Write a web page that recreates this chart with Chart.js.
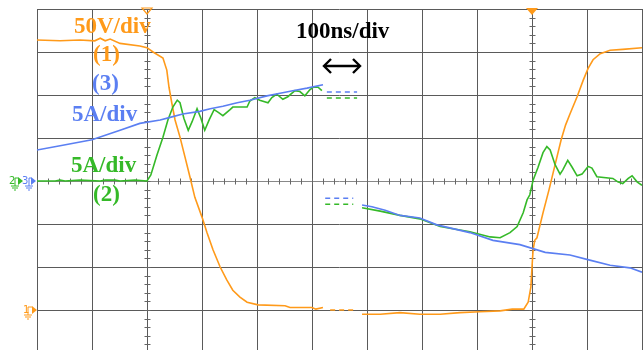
<!DOCTYPE html>
<html>
<head>
<meta charset="utf-8">
<script src="https://cdn.jsdelivr.net/npm/chart.js@4"></script>
<style>
  html, body { margin: 0; padding: 0; background: #fff; overflow: hidden; }
  #wrap { width: 643px; height: 350px; }
</style>
</head>
<body>
<div id="wrap"><canvas id="scope"></canvas></div>
<script>
// time axis in ns (100 ns/div), currents in A (5 A/div), voltage in V (50 V/div)

// ch1 voltage, first capture
const ch1TimeA = [0, 42, 78, 105, 115, 124, 133, 151, 187, 200, 211, 229, 236, 240, 245, 251, 260, 269, 278, 287, 300, 309, 320, 333, 345, 356, 369, 382, 402, 451, 460, 500, 507, 520];
const ch1VoltA = [314, 313, 314, 313, 316, 313, 315, 310, 307, 305, 300, 293, 279, 259, 241, 221, 201, 178, 155, 131, 108, 90, 70, 50, 35, 23, 15, 9, 6, 5, 3, 3, 1, 3];
// ch1 voltage, second capture
const ch1TimeB = [591, 624, 660, 696, 733, 769, 805, 842, 864, 885, 893, 898, 900, 902, 905, 909, 920, 931, 942, 953, 961, 969, 982, 993, 1002, 1011, 1024, 1042, 1065, 1100];
const ch1VoltB = [-5, -5, -3, -5, -5, -3, -2, -1, 1, 1, 9, 27, 50, 70, 81, 84, 113, 140, 169, 198, 215, 228, 248, 267, 281, 291, 298, 302, 303, 305];

// ch3 current (blue)
const ch3TimeA = [0, 42, 100, 151, 187, 224, 242, 265, 296, 315, 338, 364, 387, 418, 442, 465, 491, 520];
const ch3AmpA = [3.6, 4.1, 4.8, 5.9, 6.7, 7.1, 7.4, 7.8, 8.1, 8.4, 8.7, 9.1, 9.4, 9.9, 10.2, 10.5, 10.8, 11.2];
const ch3TimeB = [591, 609, 633, 660, 696, 727, 787, 829, 878, 924, 969, 1005, 1042, 1078, 1100];
const ch3AmpB = [-2.8, -3.0, -3.4, -4.0, -4.3, -5.1, -6.0, -6.9, -7.4, -8.3, -8.6, -9.2, -9.8, -10.1, -10.6];

// ch2 current (green)
const ch2TimeA = [0, 33, 42, 51, 78, 115, 124, 142, 151, 178, 200, 207, 218, 229, 238, 247, 255, 260, 267, 275, 282, 291, 298, 305, 313, 322, 329, 338, 351, 356, 382, 387, 396, 405, 420, 427, 436, 447, 456, 469, 478, 487, 496, 502, 511, 518];
const ch2AmpA = [0, 0, 0.1, 0, 0.1, 0, 0.1, 0.1, 0, 0.1, 0, 0.7, 3.0, 5.1, 7.1, 8.6, 9.4, 9.1, 7.3, 5.9, 6.9, 8.4, 7.3, 5.9, 7.1, 8.3, 8.0, 7.6, 8.3, 8.6, 8.6, 9.3, 9.7, 9.4, 9.1, 9.7, 10.1, 9.5, 9.8, 10.5, 10.4, 9.9, 10.6, 10.9, 10.9, 10.5];
const ch2TimeB = [591, 624, 660, 696, 733, 787, 824, 842, 860, 873, 884, 891, 896, 902, 911, 920, 927, 933, 942, 951, 956, 965, 973, 982, 991, 1002, 1009, 1018, 1047, 1056, 1065, 1075, 1082, 1091, 1100];
const ch2AmpB = [-3.1, -3.5, -4.0, -4.4, -5.3, -5.9, -6.5, -6.6, -6.0, -5.3, -3.7, -2.2, -1.6, 0.1, 1.6, 3.3, 4.0, 3.6, 1.9, 0.8, 1.3, 2.4, 1.6, 0.6, 0.8, 1.7, 1.5, 0.5, 0.3, -0.1, -0.3, 0.3, 0.6, -0.1, -0.5];

// dashed level markers bridging the two captures
const bridgeTimesHigh = [527, 582];
const bridgeTimesLow = [524, 575];
const bridgeTimesV = [533, 575];
const ch3BridgeHigh = 10.35, ch2BridgeHigh = 9.65;
const ch3BridgeLow = -2.0, ch2BridgeLow = -2.7;
const ch1Bridge = 0;

const triggerTimes = [200, 900];

const orange = '#ff9a1a';
const blue = '#5b7ff2';
const green = '#35b928';

function pts(xs, ys) { return xs.map((t, i) => ({ x: t, y: ys[i] })); }
function flat(xs, v) { return xs.map(t => ({ x: t, y: v })); }

function trace(data, color, axis) {
    return { data: data, borderColor: color, borderWidth: 1.6, pointRadius: 0, tension: 0, fill: false, yAxisID: axis };
}
function dashed(data, color, axis) {
    return { data: data, borderColor: color, borderWidth: 1.4, borderDash: [5, 4], pointRadius: 0, fill: false, yAxisID: axis };
}

function line(ctx, x1, y1, x2, y2) {
    ctx.beginPath(); ctx.moveTo(x1, y1); ctx.lineTo(x2, y2); ctx.stroke();
}

function groundMark(ctx, label, color, lx, y, gx, tx) {
    ctx.fillStyle = color; ctx.strokeStyle = color; ctx.lineWidth = 1;
    ctx.font = '10px "DejaVu Sans"';
    ctx.textBaseline = 'middle'; ctx.textAlign = 'left';
    ctx.fillText(label, lx, y);
    line(ctx, gx, y - 3, gx, y + 5);
    line(ctx, gx, y - 3, tx, y - 3);
    line(ctx, gx - 4, y + 5, gx + 4, y + 5);
    line(ctx, gx - 3, y + 7, gx + 3, y + 7);
    line(ctx, gx - 1, y + 9, gx + 1, y + 9);
    ctx.beginPath(); ctx.moveTo(tx, y - 4); ctx.lineTo(tx + 5, y); ctx.lineTo(tx, y + 4); ctx.closePath(); ctx.fill();
}

const scopeDecor = {
    id: 'scopeDecor',
    beforeDatasetsDraw(chart) {
        const { ctx, scales } = chart;
        const xs = scales.x, ys = scales.y;
        ctx.save();
        ctx.strokeStyle = '#666';
        ctx.lineWidth = 1;
        const yc = Math.round(ys.getPixelForValue(0)) + 0.5;
        for (let t = 0; t <= 1100; t += 20) {
            const px = Math.round(xs.getPixelForValue(t)) + 0.5;
            line(ctx, px, yc - 3, px, yc + 3);
        }
        triggerTimes.forEach(t => {
            const px = Math.round(xs.getPixelForValue(t)) + 0.5;
            for (let a = -19; a <= 20; a += 1) {
                const py = Math.round(ys.getPixelForValue(a)) + 0.5;
                line(ctx, px - 3, py, px + 3, py);
            }
        });
        ctx.restore();
    },
    afterDatasetsDraw(chart) {
        const { ctx, scales } = chart;
        const xs = scales.x, ys = scales.y, yv = scales.yV;
        ctx.save();
        ctx.textAlign = 'left';
        ctx.textBaseline = 'alphabetic';
        ctx.font = 'bold 23px "Liberation Serif"';
        ctx.fillStyle = orange;
        ctx.fillText('50V/div', 74, 33);
        ctx.fillText('(1)', 93, 61);
        ctx.fillStyle = blue;
        ctx.fillText('(3)', 92, 90);
        ctx.fillText('5A/div', 72, 121);
        ctx.fillStyle = green;
        ctx.fillText('5A/div', 71, 172);
        ctx.fillText('(2)', 93, 201);
        ctx.fillStyle = '#000';
        ctx.fillText('100ns/div', 296, 38);

        // double arrow under the time base label
        ctx.strokeStyle = '#000';
        ctx.lineWidth = 2.4;
        line(ctx, 324, 66, 360, 66);
        ctx.beginPath(); ctx.moveTo(331, 59); ctx.lineTo(324, 66); ctx.lineTo(331, 73); ctx.stroke();
        ctx.beginPath(); ctx.moveTo(353, 59); ctx.lineTo(360, 66); ctx.lineTo(353, 73); ctx.stroke();

        // ground references
        const yc = ys.getPixelForValue(0);
        groundMark(ctx, '2', green, 9, yc, 15, 18);
        groundMark(ctx, '3', blue, 22, yc, 29, 31);
        groundMark(ctx, '1', orange, 23, yv.getPixelForValue(0), 28, 32);

        // trigger markers
        const top = chart.chartArea.top;
        const p1 = xs.getPixelForValue(triggerTimes[0]);
        ctx.strokeStyle = orange; ctx.lineWidth = 1.2;
        ctx.beginPath(); ctx.moveTo(p1 - 5, top - 1); ctx.lineTo(p1 + 5, top - 1); ctx.lineTo(p1, top + 5); ctx.closePath(); ctx.stroke();
        const p2 = xs.getPixelForValue(triggerTimes[1]);
        ctx.fillStyle = orange;
        ctx.beginPath(); ctx.moveTo(p2 - 6, top - 1); ctx.lineTo(p2 + 6, top - 1); ctx.lineTo(p2, top + 6); ctx.closePath(); ctx.fill();
        ctx.restore();
    }
};

new Chart(document.getElementById('scope'), {
    type: 'line',
    data: {
        datasets: [
            trace(pts(ch3TimeA, ch3AmpA), blue, 'y'),
            trace(pts(ch3TimeB, ch3AmpB), blue, 'y'),
            trace(pts(ch2TimeA, ch2AmpA), green, 'y'),
            trace(pts(ch2TimeB, ch2AmpB), green, 'y'),
            trace(pts(ch1TimeA, ch1VoltA), orange, 'yV'),
            trace(pts(ch1TimeB, ch1VoltB), orange, 'yV'),
            dashed(flat(bridgeTimesHigh, ch3BridgeHigh), blue, 'y'),
            dashed(flat(bridgeTimesHigh, ch2BridgeHigh), green, 'y'),
            dashed(flat(bridgeTimesLow, ch3BridgeLow), blue, 'y'),
            dashed(flat(bridgeTimesLow, ch2BridgeLow), green, 'y'),
            dashed(flat(bridgeTimesV, ch1Bridge), orange, 'yV')
        ]
    },
    options: {
        responsive: true,
        maintainAspectRatio: false,
        animation: false,
        layout: { padding: { left: 37, top: 9, right: 1, bottom: 0 } },
        plugins: { legend: { display: false }, tooltip: { enabled: false } },
        scales: {
            x: {
                type: 'linear', min: 0, max: 1100,
                ticks: { display: false, stepSize: 100 },
                grid: { color: '#5a5a5a', lineWidth: 1, drawTicks: false },
                border: { display: false }
            },
            y: {
                type: 'linear', min: -19.65, max: 20,
                ticks: { display: false },
                afterBuildTicks: scale => { scale.ticks = [-15, -10, -5, 0, 5, 10, 15, 20].map(v => ({ value: v })); },
                grid: { color: ctx => ctx.tick && ctx.tick.value === 0 ? '#888' : '#5a5a5a', lineWidth: 1, drawTicks: false },
                border: { display: false }
            },
            yV: {
                type: 'linear', display: false, min: -46.5, max: 350
            }
        }
    },
    plugins: [scopeDecor]
});
</script>
</body>
</html>
